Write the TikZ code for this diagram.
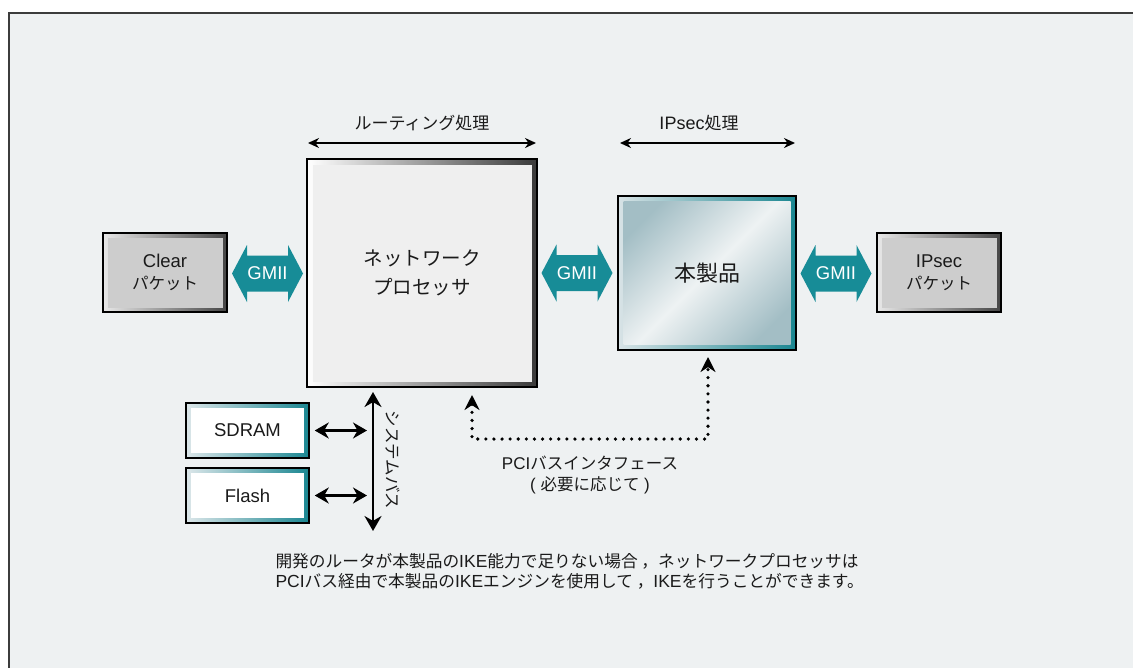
\documentclass[tikz,border=0pt]{standalone}
\usepackage{fontspec}
\setmainfont{Liberation Sans}
\newfontfamily\jp{Noto Sans CJK JP}
\usetikzlibrary{arrows.meta,calc}
\definecolor{bgc}{HTML}{EEF1F2}
\definecolor{framec}{HTML}{3C3C3C}
\definecolor{gmiic}{HTML}{178C97}
\definecolor{npface}{HTML}{EFEFEF}
\definecolor{npdark}{HTML}{3A3A3A}
\definecolor{pkface}{HTML}{CDCDCD}
\definecolor{pklight}{HTML}{E8E8E8}
\definecolor{pkdark}{HTML}{454545}
\definecolor{hc1}{HTML}{A3BEC5}
\definecolor{hc2}{HTML}{EEF2F3}
\definecolor{hlight}{HTML}{D8E3E6}
\definecolor{teal}{HTML}{1A8691}
\definecolor{memlight}{HTML}{DDE7EA}
\definecolor{txt}{HTML}{1A1A1A}
\tikzset{
  box/.style={draw=black, line width=1.5pt, rectangle, inner sep=0pt, align=center, text=txt},
  inset/.style 2 args={path picture={\fill[#2] ($(path picture bounding box.south west)+(#1,#1)$) rectangle ($(path picture bounding box.north east)-(#1,#1)$);}},
  shinyinset/.style={path picture={\shade[top color=hc1, bottom color=hc1, middle color=hc2, shading angle=45] ($(path picture bounding box.south west)+(#1,#1)$) rectangle ($(path picture bounding box.north east)-(#1,#1)$);}},
  jlbl/.style={font=\fontsize{17}{21}\selectfont, text=txt},
  gtext/.style={text=white, font=\fontsize{18.5}{18}\selectfont, inner sep=0pt},
  thinarr/.style={{Stealth[length=11pt,width=10pt]}-{Stealth[length=11pt,width=10pt]}, line width=1.8pt},
  memarr/.style={{Stealth[length=14pt,width=16pt]}-{Stealth[length=14pt,width=16pt]}, line width=2.2pt},
  busarr/.style={{Stealth[length=15pt,width=17pt]}-{Stealth[length=15pt,width=17pt]}, line width=2.4pt},
  pcidots/.style={{Stealth[length=15pt,width=15pt]}-{Stealth[length=15pt,width=15pt]}, line width=3.6pt, line cap=round, dash pattern=on 0pt off 8.1pt},
  pics/gmii/.style={code={
    \fill[gmiic] (-35.5,0) -- (-20.5,-28.5) -- (-20.5,-18) -- (20.5,-18) -- (20.5,-28.5) -- (35.5,0) -- (20.5,28.5) -- (20.5,18) -- (-20.5,18) -- (-20.5,28.5) -- cycle;
    \node[gtext] (-t) at (0,0) {GMII};
  }}
}
\begin{document}
\begin{tikzpicture}[x=1pt,y=-1pt]
\useasboundingbox (0,0) rectangle (1133,667);
\clip (0,0) rectangle (1133,667);
\fill[white] (0,0) rectangle (1133,667);
% frame
\draw[fill=bgc, draw=framec, line width=2pt] (9,13) rectangle (1150,690);

% main boxes
\node[box, minimum width=230pt, minimum height=228pt, left color=white, right color=npdark, inset={5.5pt}{npface}, font=\jp\fontsize{19.5}{29}\selectfont] (np) at (422,273) {ネットワーク\\プロセッサ};
\node[box, minimum width=178pt, minimum height=154pt, left color=hlight, right color=teal, shinyinset=5.5pt, font=\jp\fontsize{22}{25}\selectfont] (hon) at (707,273) {本製品};

\node[box, minimum width=124pt, minimum height=79pt, left color=pklight, right color=pkdark, inset={4.5pt}{pkface}, font=\fontsize{18.5}{22}\selectfont] (clear) at (165,272.5) {Clear\\{\jp\fontsize{16.5}{22}\selectfont パケット}};
\node[box, minimum width=124pt, minimum height=79pt, left color=pklight, right color=pkdark, inset={4.5pt}{pkface}, font=\fontsize{18.5}{22}\selectfont] (ipsec) at (939,272.5) {IPsec\\{\jp\fontsize{16.5}{22}\selectfont パケット}};

\node[box, minimum width=123pt, minimum height=55pt, left color=memlight, right color=teal, inset={5pt}{white}, font=\fontsize{18.5}{22}\selectfont] (sdram) at (247.5,430.5) {SDRAM};
\node[box, minimum width=123pt, minimum height=55pt, left color=memlight, right color=teal, inset={5pt}{white}, font=\fontsize{18.5}{22}\selectfont] (flash) at (247.5,495.5) {Flash};

% GMII double arrows
\pic (g1) at (267.5,273.5) {gmii};
\pic (g2) at (577,273) {gmii};
\pic (g3) at (836,273.5) {gmii};

% top extents
\coordinate (rl) at (308,143);
\coordinate (rr) at (536,143);
\draw[thinarr] (rl) -- (rr);
\node[jlbl, font=\jp\fontsize{17}{21}\selectfont] (rlab) at (422,123) {ルーティング処理};
\coordinate (il) at (620,143);
\coordinate (ir) at (795,143);
\draw[thinarr] (il) -- (ir);
\node[jlbl, font=\fontsize{18}{21}\selectfont] (ilab) at (699,123) {IPsec{\jp\fontsize{17}{21}\selectfont 処理}};

% system bus
\coordinate (busT) at (373,392);
\coordinate (busB) at (373,531);
\draw[busarr] (busT) -- (busB);
\node[jlbl, font=\jp\fontsize{16.5}{20}\selectfont, rotate=-90] (buslab) at (393,460) {システムバス};
\draw[memarr, shorten <=5pt, shorten >=6pt] (sdram.east) -- (sdram.east -| busT);
\draw[memarr, shorten <=5pt, shorten >=6pt] (flash.east) -- (flash.east -| busT);

% PCI dotted
\coordinate (pL) at (472,395);
\coordinate (pR) at (708,357);
\coordinate (pB) at (0,439);
\draw[pcidots] (pL) -- (pL|-pB) -- (pR|-pB) -- (pR);
\node[jlbl, font=\fontsize{17}{21}\selectfont, align=center] (pcilab) at (590,475) {PCI{\jp\fontsize{16.5}{21}\selectfont バスインタフェース}\\( {\jp\fontsize{16.5}{21}\selectfont 必要に応じて} )};

% note
\node[jlbl, font=\fontsize{17.5}{20}\selectfont, align=left, anchor=west] (note) at (272,571) {{\jp\fontsize{16.7}{20}\selectfont 開発のルータが本製品の}IKE{\jp\fontsize{16.7}{20}\selectfont 能力で足りない場合 ，ネットワークプロセッサは}\\PCI{\jp\fontsize{16.7}{20}\selectfont バス経由で本製品の}IKE{\jp\fontsize{16.7}{20}\selectfont エンジンを使用して ，}IKE{\jp\fontsize{16.7}{20}\selectfont を行うことができます。}};
\end{tikzpicture}
\end{document}
